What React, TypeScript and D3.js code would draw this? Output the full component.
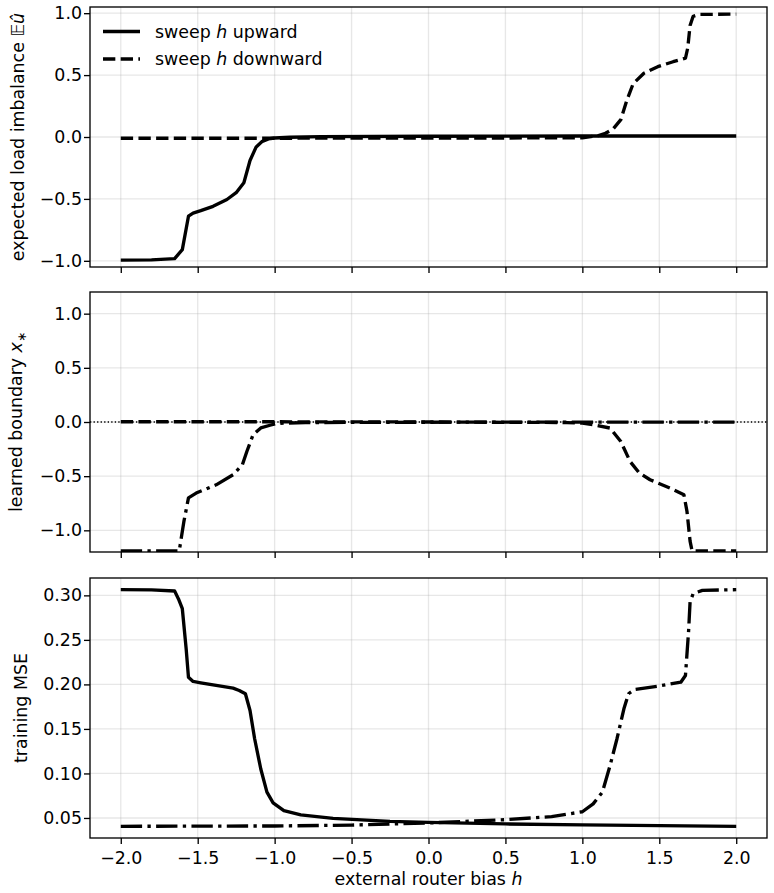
import * as d3 from "d3";
import { useEffect, useRef } from "react";

// h grid ticks
const hTicks = [-2.0, -1.5, -1.0, -0.5, 0.0, 0.5, 1.0, 1.5, 2.0];

// panel 1: expected load imbalance
const hImbUp = [-2.0, -1.8, -1.65, -1.6, -1.56, -1.53, -1.48, -1.4, -1.31, -1.25, -1.2, -1.16, -1.12, -1.08, -1.04, -1.0, -0.9, -0.7, 0.0, 1.0, 2.0];
const imbUp = [-0.995, -0.993, -0.982, -0.91, -0.64, -0.615, -0.595, -0.56, -0.505, -0.45, -0.37, -0.19, -0.08, -0.035, -0.015, -0.008, -0.002, 0.003, 0.006, 0.008, 0.008];
const hImbDown = [-2.0, -1.0, 0.0, 0.5, 1.0, 1.1, 1.15, 1.2, 1.25, 1.29, 1.33, 1.4, 1.49, 1.59, 1.67, 1.685, 1.7, 1.72, 1.76, 2.0];
const imbDown = [-0.01, -0.01, -0.008, -0.008, -0.006, 0.01, 0.03, 0.065, 0.14, 0.3, 0.43, 0.515, 0.568, 0.608, 0.636, 0.72, 0.9, 0.975, 0.99, 0.993];

// panel 2: learned boundary
const hBndUp = [-2.0, -1.62, -1.59, -1.56, -1.51, -1.38, -1.27, -1.21, -1.18, -1.14, -1.09, -1.03, -0.98, -0.8, 0.0, 1.0, 2.0];
const bndUp = [-1.19, -1.19, -0.92, -0.7, -0.656, -0.58, -0.487, -0.395, -0.27, -0.117, -0.055, -0.03, -0.012, -0.005, -0.002, -0.001, -0.001];
const hBndDown = [-2.0, -1.0, 0.0, 0.9, 1.0, 1.07, 1.18, 1.25, 1.31, 1.37, 1.44, 1.57, 1.66, 1.68, 1.7, 1.713, 2.0];
const bndDown = [0.002, 0.002, 0.0, -0.005, -0.01, -0.025, -0.056, -0.18, -0.364, -0.47, -0.533, -0.61, -0.672, -0.826, -1.1, -1.19, -1.19];

// panel 3: training MSE
const hMseUp = [-2.0, -1.8, -1.65, -1.625, -1.6, -1.575, -1.56, -1.53, -1.48, -1.38, -1.27, -1.23, -1.19, -1.16, -1.13, -1.09, -1.05, -1.01, -0.94, -0.83, -0.62, -0.25, 0.0, 0.5, 1.0, 2.0];
const mseUp = [0.3064, 0.3062, 0.3049, 0.296, 0.285, 0.24, 0.208, 0.2033, 0.2018, 0.1988, 0.1958, 0.1932, 0.1895, 0.1707, 0.139, 0.105, 0.079, 0.067, 0.0582, 0.0534, 0.0496, 0.0462, 0.045, 0.0433, 0.0422, 0.0406];
const hMseDown = [-2.0, -1.0, -0.5, 0.0, 0.5, 0.8, 1.0, 1.07, 1.13, 1.18, 1.225, 1.27, 1.3, 1.34, 1.49, 1.64, 1.67, 1.69, 1.7, 1.72, 1.78, 2.0];
const mseDown = [0.0406, 0.041, 0.042, 0.0444, 0.0481, 0.0515, 0.057, 0.0658, 0.0789, 0.1088, 0.139, 0.1726, 0.1895, 0.1943, 0.198, 0.2025, 0.21, 0.2588, 0.2925, 0.302, 0.3056, 0.3064];

const legendLabels = ["upward", "downward"];

const FONT = "DejaVu Sans";
const FS = 17.4;
const PT = 1.667;
const SOLID = "none";
const DASHED = `${7.4 * PT},${3.2 * PT}`;
const DASHDOT = `${12.8 * PT},${3.2 * PT},${2 * PT},${3.2 * PT}`;

const W = 774;
const H = 893;
const left = 90;
const right = 767;

const draw = (svgEl: SVGSVGElement) => {
  const svg = d3.select(svgEl);
  svg.selectAll("*").remove();
  svg.attr("font-family", FONT).attr("font-size", FS);

  const x = d3.scaleLinear().domain([-2.2, 2.2]).range([left, right]);

  const panels = [
    {
      top: 7, bottom: 267, domain: [-1.05, 1.05], ticks: [-1, -0.5, 0, 0.5, 1], fmt: d3.format(".1f"),
      series: [
        { h: hImbUp, v: imbUp, dash: SOLID },
        { h: hImbDown, v: imbDown, dash: DASHED },
      ],
      labelX: 23.5, zeroLine: false,
    },
    {
      top: 292, bottom: 552, domain: [-1.2, 1.2], ticks: [-1, -0.5, 0, 0.5, 1], fmt: d3.format(".1f"),
      series: [
        { h: hBndUp, v: bndUp, dash: DASHDOT },
        { h: hBndDown, v: bndDown, dash: DASHED },
      ],
      labelX: 22, zeroLine: true,
    },
    {
      top: 578, bottom: 838, domain: [0.0275, 0.3195], ticks: [0.05, 0.1, 0.15, 0.2, 0.25, 0.3], fmt: d3.format(".2f"),
      series: [
        { h: hMseUp, v: mseUp, dash: SOLID },
        { h: hMseDown, v: mseDown, dash: DASHDOT },
      ],
      labelX: 27, zeroLine: false,
    },
  ];

  panels.forEach((p, i) => {
    const y = d3.scaleLinear().domain(p.domain).range([p.bottom, p.top]);
    const g = svg.append("g");

    // grid
    g.append("g")
      .selectAll("line")
      .data(hTicks)
      .join("line")
      .attr("x1", (d) => x(d))
      .attr("x2", (d) => x(d))
      .attr("y1", p.top)
      .attr("y2", p.bottom)
      .attr("stroke", "#b0b0b0")
      .attr("stroke-opacity", 0.3)
      .attr("stroke-width", 0.8 * PT);
    g.append("g")
      .selectAll("line")
      .data(p.ticks)
      .join("line")
      .attr("x1", left)
      .attr("x2", right)
      .attr("y1", (d) => y(d))
      .attr("y2", (d) => y(d))
      .attr("stroke", "#b0b0b0")
      .attr("stroke-opacity", 0.3)
      .attr("stroke-width", 0.8 * PT);

    if (p.zeroLine) {
      g.append("line")
        .attr("x1", left)
        .attr("x2", right)
        .attr("y1", y(0))
        .attr("y2", y(0))
        .attr("stroke", "black")
        .attr("stroke-width", 0.8 * PT)
        .attr("stroke-dasharray", `${0.8 * PT},${1.32 * PT}`);
    }

    const clipId = `clip${i}`;
    svg.append("clipPath")
      .attr("id", clipId)
      .append("rect")
      .attr("x", left)
      .attr("y", p.top)
      .attr("width", right - left)
      .attr("height", p.bottom - p.top);

    p.series.forEach((s) => {
      const pts = s.h.map((h, k) => [x(h), y(s.v[k])] as [number, number]);
      g.append("path")
        .attr("clip-path", `url(#${clipId})`)
        .attr("d", d3.line()(pts))
        .attr("fill", "none")
        .attr("stroke", "black")
        .attr("stroke-width", 2 * PT)
        .attr("stroke-linejoin", "round")
        .attr("stroke-dasharray", s.dash);
    });

    // axes
    const yAxis = g
      .append("g")
      .attr("transform", `translate(${left},0)`)
      .call(d3.axisLeft(y).tickValues(p.ticks).tickFormat(p.fmt as any).tickSize(6).tickSizeOuter(0).tickPadding(2));
    const xAxis = g
      .append("g")
      .attr("transform", `translate(0,${p.bottom})`)
      .call(d3.axisBottom(x).tickValues(hTicks).tickFormat(d3.format(".1f") as any).tickSize(6).tickSizeOuter(0).tickPadding(8));
    [yAxis, xAxis].forEach((a) => {
      a.select(".domain").remove();
      a.selectAll("line").attr("stroke", "black").attr("stroke-width", 0.8 * PT);
      a.selectAll("text").attr("font-family", FONT).attr("font-size", FS).attr("fill", "black");
    });
    if (i < 2) xAxis.selectAll("text").remove();

    g.append("rect")
      .attr("x", left)
      .attr("y", p.top)
      .attr("width", right - left)
      .attr("height", p.bottom - p.top)
      .attr("fill", "none")
      .attr("stroke", "black")
      .attr("stroke-width", 0.8 * PT);

    // y label
    const lab = g
      .append("text")
      .attr("transform", `translate(${p.labelX},${(p.top + p.bottom) / 2}) rotate(-90)`)
      .attr("text-anchor", "middle");
    if (i === 0) {
      lab.append("tspan").text("expected load imbalance ");
      lab.append("tspan").text("\u{1D53C}");
      lab.append("tspan").attr("font-style", "italic").text("û");
    } else if (i === 1) {
      lab.append("tspan").text("learned boundary ");
      lab.append("tspan").attr("font-style", "italic").text("x");
      lab.append("tspan").attr("font-size", FS * 0.7).attr("dy", 4).text("∗");
    } else {
      lab.text("training MSE");
    }
  });

  // x label
  const xl = svg
    .append("text")
    .attr("x", (left + right) / 2)
    .attr("y", 885)
    .attr("text-anchor", "middle");
  xl.append("tspan").text("external router bias ");
  xl.append("tspan").attr("font-style", "italic").text("h");

  // legend
  const leg = svg.append("g");
  const legDash = [SOLID, DASHED];
  const legY = [31.5, 59];
  legendLabels.forEach((name, k) => {
    leg.append("line")
      .attr("x1", 103)
      .attr("x2", 140)
      .attr("y1", legY[k])
      .attr("y2", legY[k])
      .attr("stroke", "black")
      .attr("stroke-width", 2 * PT)
      .attr("stroke-dasharray", legDash[k]);
    const t = leg.append("text").attr("x", 155).attr("y", legY[k] + 6);
    t.append("tspan").text("sweep ");
    t.append("tspan").attr("font-style", "italic").text("h");
    t.append("tspan").text(" " + name);
  });
};

export default function App() {
  const ref = useRef<SVGSVGElement>(null);

  useEffect(() => {
    document.body.style.margin = "0";
    if (ref.current) draw(ref.current);
  }, []);

  return <svg ref={ref} width={W} height={H} style={{ display: "block", background: "white" }} />;
}
